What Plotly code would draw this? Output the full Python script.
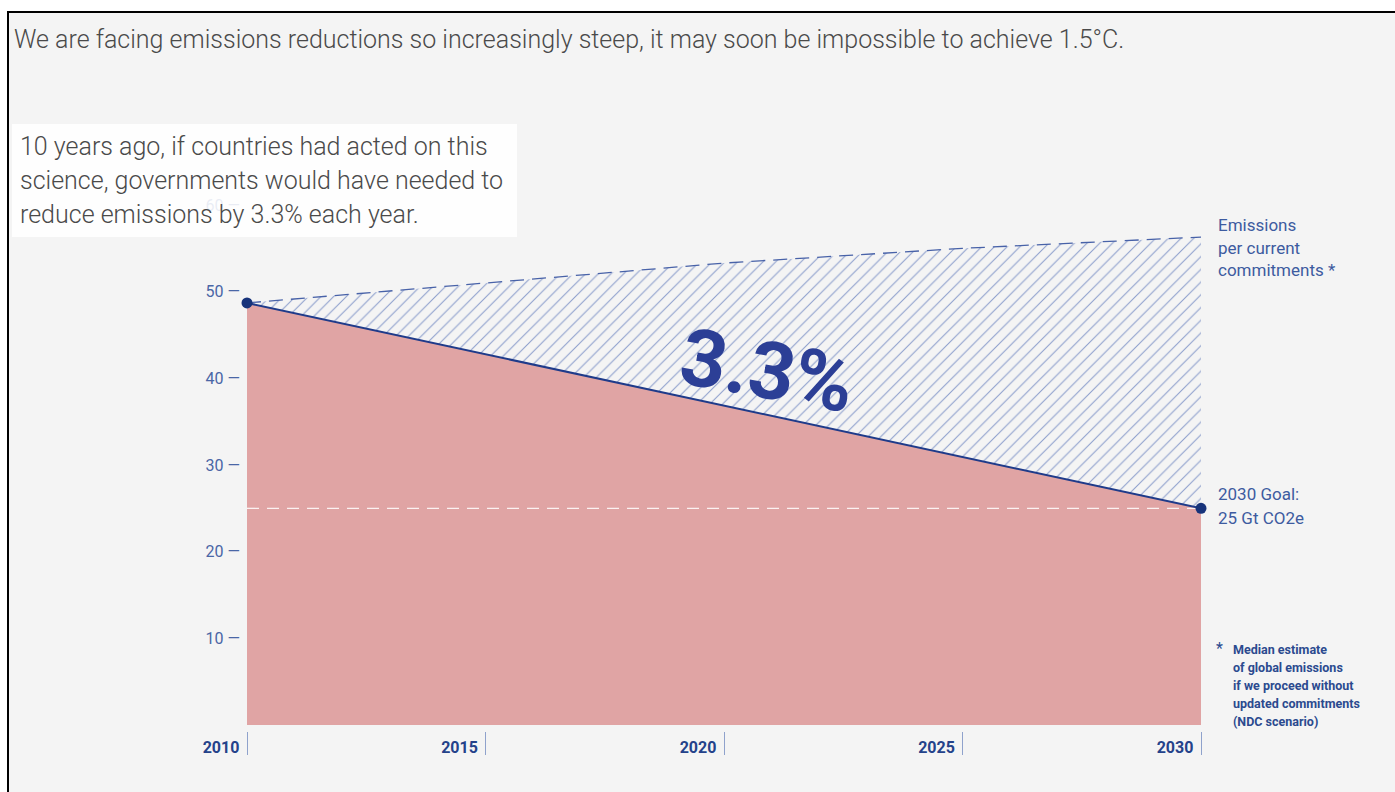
import plotly.graph_objects as go

# ---------------- data ----------------
target_years = [2010, 2030]
target_values = [48.7, 25.0]          # 3.3 % per year pathway (Gt CO2e)
ndc_years = [2010, 2012, 2015, 2020, 2025, 2030]
ndc_values = [48.7, 49.6, 51.0, 53.3, 55.0, 56.3]   # emissions per current commitments
goal_value = 25.0
rate_label = "3.3%"
x_ticks = [2010, 2015, 2020, 2025, 2030]
y_ticks = [10, 20, 30, 40, 50, 60]
y_tick_text = [f"{v} \u2014" for v in y_ticks]

W, H = 1395, 792
def fx(px):
    return px / W
def fy(py):
    return 1 - py / H

BG = "#f4f4f4"
RED = "#e0a4a4"
NAVY = "#1f3b8a"
DOT = "#17337a"
HATCH = "#8d9fcc"
LBL = "#3d5ba0"
FONT = "Roboto"

fig = go.Figure()

# red area under the 3.3% pathway
fig.add_trace(go.Scatter(
    x=target_years, y=target_values, mode="lines", fill="tozeroy",
    fillcolor=RED, line=dict(width=0, color=RED), hoverinfo="skip", showlegend=False))

# hatched gap up to current commitments
fig.add_trace(go.Scatter(
    x=ndc_years, y=ndc_values, mode="lines", fill="tonexty",
    fillcolor="rgba(0,0,0,0)",
    fillpattern=dict(shape="/", fgcolor=HATCH, bgcolor="rgba(0,0,0,0)",
                     size=9, solidity=0.12, fillmode="replace"),
    line=dict(color="#4862a8", width=1.3, dash="14px,8px"),
    hoverinfo="skip", showlegend=False))

# goal dashed line
fig.add_trace(go.Scatter(
    x=[target_years[0], target_years[-1]], y=[goal_value, goal_value], mode="lines",
    line=dict(color="rgba(255,255,255,0.85)", width=1.3, dash="12px,8px"),
    hoverinfo="skip", showlegend=False))

# target pathway line with end dots
fig.add_trace(go.Scatter(
    x=target_years, y=target_values, mode="lines+markers", cliponaxis=False,
    line=dict(color=NAVY, width=2), marker=dict(size=11, color=DOT),
    hoverinfo="skip", showlegend=False))

# frame + background
fig.add_shape(type="rect", xref="paper", yref="paper",
              x0=fx(8), x1=1.02, y0=-0.02, y1=fy(12),
              fillcolor=BG, line=dict(color="black", width=2), layer="below")

# translucent text box (covers the 60 tick label)
fig.add_shape(type="rect", xref="paper", yref="paper",
              x0=fx(12), x1=fx(517), y0=fy(237), y1=fy(124),
              fillcolor="rgba(255,255,255,0.88)", line=dict(width=0), layer="above")

annotations = []
annotations.append(dict(
    text="We are facing emissions reductions so increasingly steep, it may soon be impossible to achieve 1.5°C.",
    xref="paper", yref="paper", x=fx(12), y=fy(40), xanchor="left", yanchor="middle",
    showarrow=False, font=dict(family=FONT, size=25, color="#4a4a4a", weight=300)))

for i, line in enumerate(["10 years ago, if countries had acted on this",
                          "science, governments would have needed to",
                          "reduce emissions by 3.3% each year."]):
    annotations.append(dict(
        text=line, xref="paper", yref="paper", x=fx(18), y=fy(146 + 34.5 * i),
        xanchor="left", yanchor="middle", showarrow=False,
        font=dict(family=FONT, size=25, color="#4a4a4a", weight=300)))

annotations.append(dict(
    text=rate_label, xref="x", yref="y", x=2020.9, y=40.8, textangle=10,
    showarrow=False, font=dict(family=FONT, size=80, color="#2c3f96", weight=700)))

for i, line in enumerate(["Emissions", "per current", "commitments *"]):
    annotations.append(dict(
        text=line, xref="paper", yref="paper", x=fx(1216), y=fy(225 + 22.5 * i),
        xanchor="left", yanchor="middle", showarrow=False,
        font=dict(family=FONT, size=17, color=LBL)))

for i, line in enumerate(["2030 Goal:", "25 Gt CO2e"]):
    annotations.append(dict(
        text=line, xref="paper", yref="paper", x=fx(1216), y=fy(494 + 24 * i),
        xanchor="left", yanchor="middle", showarrow=False,
        font=dict(family=FONT, size=17, color=LBL)))

annotations.append(dict(
    text="*", xref="paper", yref="paper", x=fx(1214), y=fy(648),
    xanchor="left", yanchor="middle", showarrow=False,
    font=dict(family=FONT, size=16, color="#2b4a8f")))
for i, line in enumerate(["Median estimate", "of global emissions", "if we proceed without",
                          "updated commitments", "(NDC scenario)"]):
    annotations.append(dict(
        text=line, xref="paper", yref="paper", x=fx(1231), y=fy(649 + 18 * i),
        xanchor="left", yanchor="middle", showarrow=False,
        font=dict(family=FONT, size=12.5, color="#2b4a8f", weight=700)))

fig.update_layout(
    width=W, height=H,
    margin=dict(l=0, r=0, t=0, b=0, autoexpand=False),
    paper_bgcolor="white", plot_bgcolor="rgba(0,0,0,0)",
    annotations=annotations,
    xaxis=dict(domain=[fx(247), fx(1201)], range=[2010, 2030],
               anchor="free", position=fy(731), automargin=False,
               tickvals=x_ticks, ticktext=[str(v) for v in x_ticks],
               ticks="outside", ticklen=23, tickwidth=1, tickcolor="#8fa2cc",
               ticklabelshift=-26, ticklabelstandoff=-21,
               tickfont=dict(family=FONT, size=16, color="#24428a", weight=700),
               showgrid=False, zeroline=False, showline=False, fixedrange=True),
    yaxis=dict(domain=[fy(725), fy(205)], range=[0, 60], automargin=False,
               tickvals=y_ticks, ticktext=y_tick_text, ticks="",
               ticklabelstandoff=6,
               tickfont=dict(family=FONT, size=16, color="#4a66a6"),
               showgrid=False, zeroline=False, showline=False, fixedrange=True),
)

fig.write_html("out.html")
